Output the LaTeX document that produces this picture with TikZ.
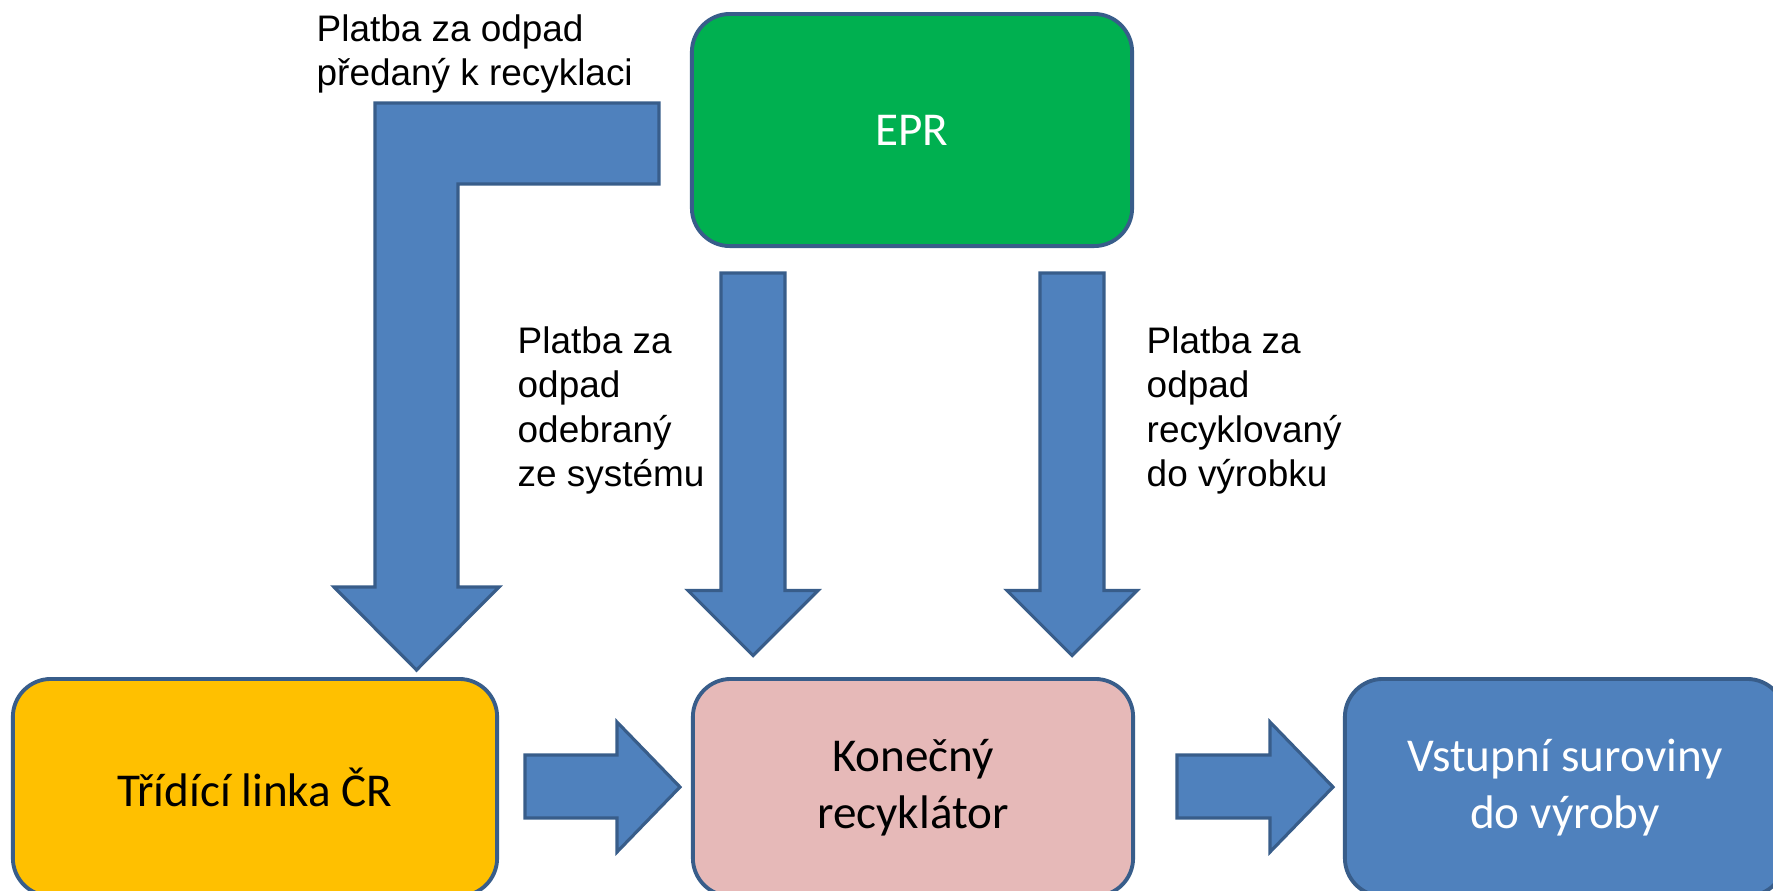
\documentclass[tikz,border=0pt]{standalone}
\usepackage{fontspec}
\setmainfont{Liberation Sans}
\newfontfamily\boxfont{Carlito}
\usepackage{xcolor}
\usepackage{tikz}
\usetikzlibrary{shapes}
\usetikzlibrary{arrows}
\definecolor{arrowfill}{RGB}{79,129,189}
\definecolor{arrowline}{RGB}{56,93,138}
\definecolor{eprgreen}{RGB}{0,176,80}
\definecolor{sortorange}{RGB}{255,192,0}
\definecolor{recpink}{RGB}{230,185,184}
\tikzset{
	main box/.style={rectangle,rounded corners=0.38cm,draw=arrowline,line width=1.1pt,
		minimum width=4.4cm,minimum height=2.17cm,align=center,
		font=\boxfont\fontsize{13.4}{16.2}\selectfont},
	block arrow/.style={fill=arrowfill,draw=arrowline,line width=0.9pt,line join=miter},
	pay label/.style={anchor=north west,inner sep=0pt,align=left,
		font=\fontsize{10.5}{12.6}\selectfont}
}

\begin{document}
\begin{tikzpicture}[x=0.01cm,y=-0.01cm]
	\useasboundingbox (0,0) rectangle (1773,890);
	\clip (0,0) rectangle (1773,890);
	\node [main box,fill=eprgreen,minimum height=2.32cm,text=white] (epr) at (912,130) {EPR};
	\node [main box,fill=sortorange,minimum width=4.84cm] (tridici) at (255,787.5) {Třídící linka ČR};
	\node [main box,fill=recpink] (konecny) at (913,787.5) {Konečný\\recyklátor};
	\node [main box,fill=arrowfill,text=white] (vstup) at (1565,787.5) {Vstupní suroviny\\do výroby};
	\draw [block arrow] (375,103) -- (659,103) -- (659,184) -- (458,184) -- (458,587)
		-- (499,587) -- (416.5,670) -- (334,587) -- (375,587) -- cycle;
	\foreach \cx in {753,1072}
		\draw [block arrow] (\cx-32,273) -- (\cx+32,273) -- (\cx+32,590.5) -- (\cx+65,590.5)
			-- (\cx,655.5) -- (\cx-65,590.5) -- (\cx-32,590.5) -- cycle;
	\foreach \sx/\hx/\tx in {525/617/680,1177/1270/1333}
		\draw [block arrow] (\sx,755) -- (\hx,755) -- (\hx,722) -- (\tx,787) -- (\hx,852)
			-- (\hx,818) -- (\sx,818) -- cycle;
	\node [pay label] (paysort) at (316,14) {Platba za odpad\\předaný k recyklaci};
	\node [pay label] (payout) at (517,326) {Platba za\\odpad\\odebraný\\ze systému};
	\node [pay label] (payprod) at (1146,326) {Platba za\\odpad\\recyklovaný\\do výrobku};
\end{tikzpicture}
\end{document}
